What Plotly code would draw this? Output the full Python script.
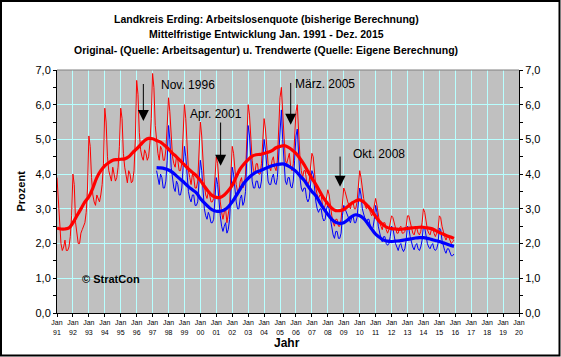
import plotly.graph_objects as go

# ---------------- data ----------------
years_axis = list(range(1991, 2021))
x_ticktext = [f"Jan<br>{y % 100:02d}" for y in years_axis]
y_tickvals = [0, 1, 2, 3, 4, 5, 6, 7]
y_ticktext = ["0,0", "1,0", "2,0", "3,0", "4,0", "5,0", "6,0", "7,0"]

# Original values Landkreis (monthly Jan 1991 - Dec 2015), red
red_orig_start = 1991
red_orig = [
    3.9, 3.3, 2.4, 2.0, 1.8, 1.9, 2.1, 1.8, 1.8, 1.9, 2.2, 2.8,      # 1991
    4.0, 3.7, 2.6, 2.2, 2.0, 2.0, 2.3, 2.4, 2.5, 2.6, 2.9, 3.6,      # 1992
    5.1, 4.8, 3.9, 3.4, 3.2, 3.1, 3.4, 3.3, 3.2, 3.4, 3.7, 4.3,      # 1993
    5.9, 5.5, 4.5, 4.1, 3.9, 3.8, 4.2, 4.0, 3.8, 3.9, 4.2, 4.8,      # 1994
    5.9, 5.6, 4.6, 4.2, 3.9, 3.75, 4.1, 4.0, 3.75, 3.8, 4.1, 5.0,    # 1995
    6.7, 6.3, 5.2, 4.7, 4.5, 4.4, 4.7, 4.6, 4.4, 4.5, 4.9, 5.6,      # 1996
    6.9, 6.5, 5.4, 4.9, 4.6, 4.4, 4.8, 4.7, 4.4, 4.4, 4.7, 5.4,      # 1997
    6.2, 5.8, 4.9, 4.5, 4.3, 4.2, 4.5, 4.4, 4.1, 4.1, 4.3, 5.0,      # 1998
    6.0, 5.6, 4.6, 4.1, 3.9, 3.7, 4.0, 3.9, 3.6, 3.6, 3.8, 4.5,      # 1999
    5.5, 5.1, 4.2, 3.7, 3.4, 3.3, 3.5, 3.4, 3.2, 3.2, 3.3, 3.9,      # 2000
    4.5, 4.3, 3.7, 3.2, 2.9, 2.7, 2.9, 3.0, 2.6, 2.8, 3.1, 4.0,      # 2001
    4.8, 4.6, 4.0, 3.7, 3.5, 3.5, 3.8, 3.9, 3.6, 3.7, 4.0, 4.9,      # 2002
    6.0, 5.7, 4.8, 4.4, 4.1, 4.0, 4.3, 4.3, 4.0, 4.0, 4.3, 4.9,      # 2003
    5.6, 5.3, 4.7, 4.3, 4.2, 4.1, 4.4, 4.5, 4.2, 4.1, 4.4, 5.2,      # 2004
    6.2, 6.5, 5.7, 4.8, 4.4, 4.3, 4.5, 4.6, 4.2, 4.1, 4.3, 5.0,      # 2005
    5.8, 6.0, 5.2, 4.5, 4.1, 3.9, 4.1, 4.1, 3.8, 3.7, 3.8, 4.2,      # 2006
    4.6, 4.5, 3.9, 3.6, 3.4, 3.3, 3.4, 3.4, 3.1, 3.0, 3.1, 3.4,      # 2007
    3.55, 3.4, 3.0, 2.8, 2.6, 2.5, 2.7, 2.7, 2.5, 2.5, 2.7, 3.2,     # 2008
    3.6, 3.5, 3.3, 3.2, 3.1, 3.0, 3.2, 3.2, 3.0, 3.0, 3.2, 3.6,      # 2009
    4.1, 3.9, 3.5, 3.3, 3.1, 3.0, 3.1, 3.1, 2.9, 2.8, 2.9, 3.1,      # 2010
    3.3, 3.1, 2.8, 2.6, 2.5, 2.4, 2.6, 2.6, 2.4, 2.3, 2.4, 2.6,      # 2011
    2.8, 2.75, 2.6, 2.4, 2.3, 2.3, 2.45, 2.5, 2.3, 2.3, 2.35, 2.5,   # 2012
    2.8, 2.8, 2.6, 2.4, 2.3, 2.25, 2.4, 2.45, 2.3, 2.25, 2.35, 2.6,  # 2013
    3.0, 2.9, 2.6, 2.4, 2.3, 2.25, 2.4, 2.45, 2.3, 2.2, 2.3, 2.4,    # 2014
    2.8, 2.75, 2.5, 2.3, 2.2, 2.1, 2.2, 2.2, 2.1, 2.0, 2.05, 2.1,    # 2015
]

# Original values, blue (monthly Apr 1997 - Dec 2015)
blue_orig_start = 1997 + 3 / 12
blue_orig = [
    4.1, 3.9, 3.7, 4.0, 3.9, 3.6, 3.6, 3.8, 4.4,                     # 1997 (Apr-Dec)
    5.4, 5.0, 4.2, 3.8, 3.6, 3.5, 3.8, 3.7, 3.4, 3.4, 3.6, 4.2,      # 1998
    4.8, 4.5, 3.9, 3.5, 3.3, 3.2, 3.4, 3.4, 3.1, 3.1, 3.2, 3.7,      # 1999
    4.4, 4.1, 3.4, 3.0, 2.8, 2.7, 2.9, 2.8, 2.6, 2.6, 2.7, 3.2,      # 2000
    3.9, 3.7, 3.2, 2.8, 2.5, 2.35, 2.5, 2.6, 2.3, 2.4, 2.7, 3.4,     # 2001
    4.2, 4.0, 3.5, 3.2, 3.0, 3.0, 3.3, 3.4, 3.1, 3.2, 3.5, 4.3,      # 2002
    5.4, 5.1, 4.2, 3.8, 3.6, 3.6, 3.8, 3.8, 3.6, 3.6, 3.8, 4.3,      # 2003
    5.0, 4.7, 4.1, 3.8, 3.7, 3.7, 3.9, 4.0, 3.75, 3.7, 3.9, 4.6,     # 2004
    5.5, 5.85, 5.0, 4.2, 3.8, 3.7, 3.9, 3.9, 3.65, 3.6, 3.8, 4.4,    # 2005
    5.1, 5.3, 4.5, 3.9, 3.6, 3.5, 3.6, 3.6, 3.3, 3.2, 3.3, 3.7,      # 2006
    4.1, 4.0, 3.5, 3.2, 3.0, 2.9, 3.0, 3.0, 2.75, 2.65, 2.7, 3.0,    # 2007
    3.1, 3.0, 2.7, 2.4, 2.25, 2.15, 2.35, 2.35, 2.15, 2.15, 2.3, 2.8, # 2008
    3.1, 3.0, 2.9, 2.75, 2.65, 2.6, 2.75, 2.8, 2.6, 2.6, 2.75, 3.1,  # 2009
    3.6, 3.4, 3.0, 2.85, 2.7, 2.6, 2.7, 2.7, 2.5, 2.4, 2.45, 2.7,    # 2010
    3.1, 2.9, 2.5, 2.3, 2.15, 2.05, 2.2, 2.2, 2.0, 1.95, 2.0, 2.2,   # 2011
    2.5, 2.45, 2.2, 2.0, 1.9, 1.8, 1.95, 2.0, 1.85, 1.77, 1.85, 2.1, # 2012
    2.5, 2.45, 2.2, 2.0, 1.9, 1.82, 1.95, 2.0, 1.85, 1.8, 1.9, 2.1,  # 2013
    2.5, 2.45, 2.2, 2.0, 1.9, 1.85, 1.95, 2.0, 1.85, 1.8, 1.85, 2.0, # 2014
    2.45, 2.4, 2.1, 1.9, 1.8, 1.72, 1.85, 1.85, 1.75, 1.65, 1.65, 1.7,  # 2015
]

# Trend values (quarterly readings), red: Jan 1991 - Dec 2015
red_trend_start = 1991
red_trend = [
    2.45, 2.42, 2.42, 2.45,  2.6, 2.8, 3.0, 3.2,  3.35, 3.6, 3.9, 4.1,
    4.24, 4.33, 4.4, 4.42,  4.43, 4.44, 4.5, 4.62,  4.73, 4.85, 4.97, 5.03,
    5.02, 4.97, 4.92, 4.83,  4.72, 4.6, 4.5, 4.38,  4.27, 4.15, 4.05, 3.95,
    3.82, 3.65, 3.5, 3.38,  3.33, 3.33, 3.4, 3.52,  3.68, 3.92, 4.15, 4.3,
    4.42, 4.52, 4.56, 4.57,  4.6, 4.63, 4.68, 4.76,  4.8, 4.82, 4.78, 4.7,
    4.6, 4.45, 4.28, 4.08,  3.88, 3.7, 3.5, 3.3,  3.15, 3.02, 2.95, 2.95,
    2.98, 3.07, 3.16, 3.23,  3.26, 3.2, 3.08, 2.95,  2.78, 2.63, 2.53, 2.46,
    2.43, 2.42, 2.41, 2.42,  2.44, 2.45, 2.46, 2.47,  2.47, 2.45, 2.43, 2.38,
    2.32, 2.27, 2.22, 2.18,
]
red_trend_end = 2.15

# Trend values (quarterly readings), blue: Apr 1997 - Dec 2015
blue_trend_start = 1997.25
blue_trend = [
    4.19, 4.18, 4.16,  4.12, 4.05, 3.95, 3.85,  3.75, 3.64, 3.55, 3.46,
    3.3, 3.17, 3.06, 2.97,  2.93, 2.93, 2.97, 3.06,  3.2, 3.38, 3.57, 3.75,
    3.88, 3.98, 4.06, 4.1,  4.15, 4.2, 4.24, 4.27,  4.29, 4.29, 4.24, 4.17,
    4.08, 3.95, 3.83, 3.66,  3.5, 3.38, 3.18, 3.0,  2.84, 2.7, 2.61, 2.58,
    2.6, 2.68, 2.78, 2.83,  2.8, 2.72, 2.58, 2.42,  2.27, 2.18, 2.1, 2.07,
    2.06, 2.07, 2.08, 2.1,  2.12, 2.14, 2.16, 2.17,  2.17, 2.15, 2.12, 2.09,
    2.06, 2.02, 1.98, 1.94,
]
blue_trend_end = 1.92
series_end = 2015 + 11 / 12

# Annotations: label texts, label positions, arrow (tail / tip)
ann_texts = ["Nov. 1996", "Apr. 2001", "März. 2005", "Okt. 2008"]
ann_text_x = [1997.40, 1999.24, 2005.83, 2009.46]
ann_text_y = [6.57, 5.73, 6.60, 4.58]
arrow_x = [1996.42, 2001.27, 2005.67, 2008.77]
arrow_tail_y = [6.64, 5.53, 6.67, 4.55]
arrow_tip_y = [5.53, 4.24, 5.42, 3.64]

title_lines = [
    "Landkreis Erding: Arbeitslosenquote (bisherige Berechnung)",
    "Mittelfristige Entwicklung Jan. 1991 - Dez. 2015",
    "Original- (Quelle: Arbeitsagentur) u. Trendwerte (Quelle: Eigene Berechnung)",
]

# ---------------- figure ----------------
FONT = "Liberation Sans, Arial, sans-serif"
RED = "#FF0000"
BLUE = "#0000FF"
GRID = "#B8FFFF"

red_x = [red_orig_start + i / 12 for i in range(len(red_orig))]
blue_x = [blue_orig_start + i / 12 for i in range(len(blue_orig))]
red_tx = [red_trend_start + 0.25 * i for i in range(len(red_trend))] + [series_end]
red_ty = red_trend + [red_trend_end]
blue_tx = [blue_trend_start + 0.25 * i for i in range(len(blue_trend))] + [series_end]
blue_ty = blue_trend + [blue_trend_end]

fig = go.Figure()
fig.add_trace(go.Scatter(x=red_x, y=red_orig, mode="lines",
                         line=dict(color=RED, width=1), hoverinfo="skip"))
fig.add_trace(go.Scatter(x=blue_x, y=blue_orig, mode="lines",
                         line=dict(color=BLUE, width=1), hoverinfo="skip"))
fig.add_trace(go.Scatter(x=red_tx, y=red_ty, mode="lines",
                         line=dict(color=RED, width=3.2, shape="spline"), hoverinfo="skip"))
fig.add_trace(go.Scatter(x=blue_tx, y=blue_ty, mode="lines", yaxis="y2",
                         line=dict(color=BLUE, width=3.2, shape="spline"), hoverinfo="skip"))

L, R, T, B = 57, 42, 70, 44
W, H = 561, 357
pw, ph = W - L - R, H - T - B

axis_common = dict(
    range=[0, 7], tickvals=y_tickvals, ticktext=y_ticktext,
    ticks="outside", ticklen=3, tickcolor="black",
    showline=True, linecolor="black", linewidth=1,
    tickfont=dict(family=FONT, size=11, color="black"),
    zeroline=False, fixedrange=True,
    minor=dict(dtick=0.5, ticks="outside", ticklen=3, tickcolor="black", showgrid=False),
)

fig.update_layout(
    width=W, height=H, autosize=False,
    margin=dict(l=L, r=R, t=T, b=B, pad=0),
    paper_bgcolor="white", plot_bgcolor="#C0C0C0",
    showlegend=False,
    font=dict(family=FONT, color="black"),
    xaxis=dict(
        range=[1991, 2020], tickvals=years_axis, ticktext=x_ticktext,
        ticks="outside", ticklen=3, tickcolor="black",
        showgrid=True, gridcolor=GRID, gridwidth=1,
        showline=True, linecolor="black", linewidth=1,
        tickfont=dict(family=FONT, size=7, color="black"),
        tickangle=0, zeroline=False, fixedrange=True,
    ),
    yaxis=dict(showgrid=True, gridcolor=GRID, gridwidth=1, side="left", **axis_common),
    yaxis2=dict(overlaying="y", side="right", showgrid=False, **axis_common),
)

# Title lines
for txt, py in zip(title_lines, [19.5, 34.5, 50]):
    fig.add_annotation(text=f"<b>{txt}</b>", xref="paper", yref="paper",
                       x=(266 - L) / pw, y=(T + ph - py) / ph,
                       xanchor="center", yanchor="middle", showarrow=False,
                       font=dict(family=FONT, size=10.5, color="black"))

# Axis titles
fig.add_annotation(text="<b>Prozent</b>", xref="paper", yref="paper",
                   x=(20 - L) / pw, y=0.5, textangle=-90,
                   xanchor="center", yanchor="middle", showarrow=False,
                   font=dict(family=FONT, size=11, color="black"))
fig.add_annotation(text="<b>Jahr</b>", xref="paper", yref="paper",
                   x=(287 - L) / pw, y=(T + ph - 343) / ph,
                   xanchor="center", yanchor="middle", showarrow=False,
                   font=dict(family=FONT, size=12, color="black"))

# Copyright
fig.add_annotation(text="<b>© StratCon</b>", x=1992.44, y=0.98,
                   xanchor="left", yanchor="middle", showarrow=False,
                   font=dict(family=FONT, size=11, color="black"))

# Event labels and arrows
for txt, tx, ty in zip(ann_texts, ann_text_x, ann_text_y):
    fig.add_annotation(text=txt, x=tx, y=ty, xanchor="left", yanchor="middle",
                       showarrow=False, font=dict(family=FONT, size=12, color="black"))
for axp, ty0, ty1 in zip(arrow_x, arrow_tail_y, arrow_tip_y):
    fig.add_annotation(text="", x=axp, y=ty1, ax=axp, ay=ty0,
                       xref="x", yref="y", axref="x", ayref="y",
                       showarrow=True, arrowhead=2, arrowsize=2.2, arrowwidth=1,
                       arrowcolor="black", standoff=0)

# Plot top border (gray) and figure frame
fig.add_shape(type="line", xref="paper", yref="paper", x0=0, x1=1, y0=1, y1=1,
              line=dict(color="#808080", width=1))
fig.add_shape(type="rect", xref="paper", yref="paper",
              x0=(1 - L) / pw, x1=(W - 1.5 - L) / pw,
              y0=(T + ph - (H - 1.5)) / ph, y1=(T + ph - 1) / ph,
              line=dict(color="black", width=2), fillcolor="rgba(0,0,0,0)", layer="above")

fig.write_html("out.html", config={"displayModeBar": False},
               post_script="document.body.style.margin='0px';")
